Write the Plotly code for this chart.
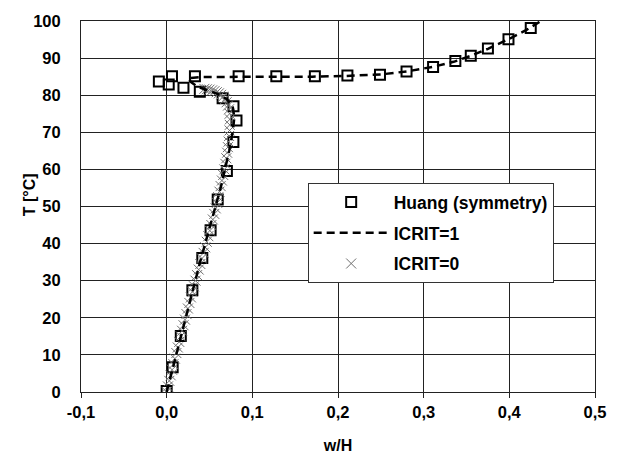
import plotly.graph_objects as go

# Huang (symmetry) reference points: w/H and temperature
huang_w = [0.000, 0.007, 0.0165, 0.030, 0.0416, 0.0513, 0.0596, 0.0703, 0.0779, 0.0815,
           0.0780, 0.0653, 0.0387, 0.0196, 0.0024, -0.0091, 0.0062, 0.0330, 0.084, 0.128,
           0.173, 0.211, 0.249, 0.280, 0.311, 0.337, 0.355, 0.375, 0.399, 0.425]
huang_t = [0.3, 6.7, 15.1, 27.4, 36.1, 43.6, 51.9, 59.6, 67.4, 73.2,
           77.0, 79.2, 80.9, 82.0, 82.9, 83.7, 85.1, 85.1, 85.1, 85.1,
           85.1, 85.3, 85.5, 86.4, 87.6, 89.2, 90.6, 92.6, 95.1, 98.1]

# ICRIT=1 solution curve
icrit1_w = [0.000, 0.0055, 0.011, 0.0165, 0.022, 0.0275, 0.033, 0.039, 0.045, 0.051,
            0.057, 0.063, 0.068, 0.073, 0.077, 0.079, 0.077, 0.070, 0.060, 0.048,
            0.036, 0.028, 0.025, 0.040, 0.080, 0.130, 0.170, 0.210, 0.250, 0.280,
            0.310, 0.335, 0.355, 0.375, 0.400, 0.420, 0.437]
icrit1_t = [0.0, 5.0, 10.0, 15.0, 20.0, 25.0, 30.0, 35.0, 40.0, 45.0,
            50.0, 55.0, 60.0, 65.0, 70.0, 74.0, 77.0, 79.0, 80.3, 81.2,
            82.3, 83.6, 84.6, 84.9, 85.0, 85.0, 85.0, 85.2, 85.6, 86.4,
            87.6, 89.0, 90.6, 92.5, 95.2, 97.6, 100.0]

# ICRIT=0 solution points
icrit0_w = [0.0000, 0.0015, 0.0031, 0.0047, 0.0063, 0.0079, 0.0096, 0.0113, 0.0130, 0.0147,
            0.0164, 0.0180, 0.0197, 0.0214, 0.0231, 0.0248, 0.0265, 0.0283, 0.0301, 0.0319,
            0.0337, 0.0355, 0.0374, 0.0393, 0.0412, 0.0431, 0.0450, 0.0468, 0.0486, 0.0504,
            0.0522, 0.0539, 0.0556, 0.0573, 0.0588, 0.0602, 0.0616, 0.0630, 0.0645, 0.0660,
            0.0673, 0.0685, 0.0696, 0.0706, 0.0715, 0.0723, 0.0729, 0.0734, 0.0737, 0.0738,
            0.0735, 0.0728, 0.0716, 0.0700, 0.0680, 0.0658, 0.0635, 0.0610, 0.0585, 0.0558,
            0.0530, 0.0500, 0.0470, 0.0440]
icrit0_t = [0.0, 1.5, 3.0, 4.5, 6.0, 7.5, 9.0, 10.5, 12.0, 13.5,
            15.0, 16.5, 18.0, 19.5, 21.0, 22.5, 24.0, 25.5, 27.0, 28.5,
            30.0, 31.5, 33.0, 34.5, 36.0, 37.5, 39.0, 40.5, 42.0, 43.5,
            45.0, 46.5, 48.0, 49.5, 51.0, 52.5, 54.0, 55.5, 57.0, 58.5,
            60.0, 61.5, 63.0, 64.5, 66.0, 67.5, 69.0, 70.5, 72.0, 73.5,
            75.0, 76.2, 77.2, 78.1, 78.9, 79.6, 80.1, 80.5, 80.8, 81.1,
            81.3, 81.5, 81.6, 81.7]

x_tick_vals = [-0.1, 0.0, 0.1, 0.2, 0.3, 0.4, 0.5]
x_tick_text = ["-0,1", "0,0", "0,1", "0,2", "0,3", "0,4", "0,5"]
y_tick_vals = [0, 10, 20, 30, 40, 50, 60, 70, 80, 90, 100]
y_tick_text = [str(v) for v in y_tick_vals]

FONT = "Liberation Sans"
TICK_SIZE = 16.5

fig = go.Figure()

# draw order: squares, crosses, dashed line on top; legend order fixed by legendrank
fig.add_trace(go.Scatter(
    x=huang_w, y=huang_t, mode="markers", name="<b>Huang (symmetry)</b>",
    legendgroup="a", legendrank=1,
    marker=dict(symbol="square-open", size=10, color="black", line=dict(width=2, color="black")),
))
fig.add_trace(go.Scatter(
    x=icrit0_w, y=icrit0_t, mode="markers", name="<b>ICRIT=0</b>",
    legendgroup="c", legendrank=3,
    marker=dict(symbol="x-thin", size=10, color="#6e6e6e", line=dict(width=1, color="#6e6e6e")),
))
fig.add_trace(go.Scatter(
    x=icrit1_w, y=icrit1_t, mode="lines", name="<b>ICRIT=1</b>",
    legendgroup="b", legendrank=2,
    line=dict(color="black", width=2.5, dash="8px,5px"),
))

fig.update_layout(
    width=618, height=464,
    margin=dict(l=81, r=12, t=16, b=71),
    paper_bgcolor="white", plot_bgcolor="white",
    font=dict(family=FONT, size=16, color="black"),
    showlegend=True,
    legend=dict(
        x=0.441, y=0.563, xanchor="left", yanchor="top",
        bgcolor="white", bordercolor="#333333", borderwidth=1,
        font=dict(family=FONT, size=17.5, color="black"),
        traceorder="grouped", tracegroupgap=5,
        itemwidth=75,
    ),
    annotations=[dict(
        text="<b>T [°C]</b>", textangle=-90,
        xref="paper", yref="paper", x=-0.101, y=0.5305,
        xanchor="center", yanchor="middle", showarrow=False,
        font=dict(family=FONT, size=16, color="black"),
    )],
)

fig.update_xaxes(
    range=[-0.1, 0.5], tickvals=x_tick_vals, ticktext=x_tick_text,
    showgrid=True, gridcolor="#222222", gridwidth=1,
    showline=True, linecolor="#222222", linewidth=1, mirror=True,
    ticks="outside", ticklen=5, tickcolor="#222222",
    tickfont=dict(family=FONT, size=TICK_SIZE, color="black", weight="bold"),
    title=dict(text="<b>w/H</b>", font=dict(family=FONT, size=16), standoff=20),
    zeroline=False,
)
fig.update_yaxes(
    range=[0, 100], tickvals=y_tick_vals, ticktext=y_tick_text,
    showgrid=True, gridcolor="#222222", gridwidth=1,
    showline=True, linecolor="#222222", linewidth=1, mirror=True,
    ticks="", ticklabelstandoff=16,
    tickfont=dict(family=FONT, size=TICK_SIZE, color="black", weight="bold"),
    zeroline=False,
)

fig.write_html("out.html")
